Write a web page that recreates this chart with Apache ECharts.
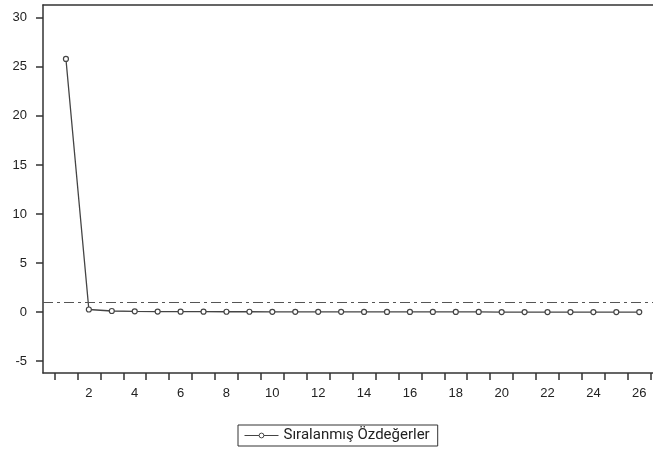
<!DOCTYPE html>
<html><head><meta charset="utf-8">
<script src="https://cdn.jsdelivr.net/npm/echarts@6/dist/echarts.min.js"></script>
<style>html,body{margin:0;padding:0;background:#fff}#c{width:653px;height:454px}</style>
</head><body><div id="c"></div>
<script>
const seriesName = 'Sıralanmış Özdeğerler';
const components = [1,2,3,4,5,6,7,8,9,10,11,12,13,14,15,16,17,18,19,20,21,22,23,24,25,26];
const eigenvalues = [25.8,0.27,0.12,0.08,0.06,0.05,0.05,0.04,0.04,0.03,0.03,0.03,0.03,0.02,0.02,0.02,0.02,0.02,0.02,0.01,0.01,0.01,0.01,0.01,0.01,0.01];
const referenceValue = 1;
const xTickValues = [0.5,1.5,2.5,3.5,4.5,5.5,6.5,7.5,8.5,9.5,10.5,11.5,12.5,13.5,14.5,15.5,16.5,17.5,18.5,19.5,20.5,21.5,22.5,23.5,24.5,25.5,26.5];
const xLabelValues = [2,4,6,8,10,12,14,16,18,20,22,24,26];
const yTickValues = [-5,0,5,10,15,20,25,30];

const chart = echarts.init(document.getElementById('c'), null, {renderer:'canvas'});
const axisColor = '#333';
const labelFont = {color:'#222', fontFamily:'Liberation Sans, Arial, sans-serif', fontSize:13};
chart.setOption({
  animation:false,
  grid:{left:43, right:0, top:5, bottom:81},
  xAxis:[{
    type:'value', min:0, max:26.6, position:'bottom',
    axisLine:{show:true, onZero:false, lineStyle:{color:axisColor, width:1.5}},
    axisTick:{show:true, customValues:xTickValues, length:7, inside:false, lineStyle:{color:axisColor, width:1.5}},
    axisLabel:Object.assign({customValues:xLabelValues, margin:14}, labelFont),
    splitLine:{show:false}
  },{
    type:'value', min:0, max:26.6, position:'top',
    axisLine:{show:true, onZero:false, lineStyle:{color:axisColor, width:1.5}},
    axisTick:{show:false}, axisLabel:{show:false}, splitLine:{show:false}
  }],
  yAxis:{
    type:'value', min:-6.2, max:31.3,
    axisLine:{show:true, onZero:false, lineStyle:{color:axisColor, width:1.5}},
    axisTick:{show:true, customValues:yTickValues, length:7, lineStyle:{color:axisColor, width:1.5}},
    axisLabel:Object.assign({customValues:yTickValues, margin:16}, labelFont),
    splitLine:{show:false}
  },
  legend:{
    left:238, top:425, data:[seriesName],
    borderColor:'#333', borderWidth:1, padding:[3,8,3,6],
    itemWidth:34, itemHeight:6, itemGap:6,
    lineStyle:{width:1, color:'#444'},
    itemStyle:{color:'#fff', borderColor:'#444', borderWidth:1},
    textStyle:{color:'#222', fontFamily:'Roboto, Arial, sans-serif', fontSize:15}
  },
  series:[{
    name:seriesName, type:'line',
    data:components.map((c,i)=>[c, eigenvalues[i]]),
    symbol:'circle', symbolSize:5, showSymbol:true,
    lineStyle:{color:'#444', width:1.3},
    itemStyle:{color:'#fff', borderColor:'#444', borderWidth:1.2},
    markLine:{
      silent:true, symbol:'none', label:{show:false},
      lineStyle:{color:'#555', type:[10,4,3,4], width:1},
      data:[{yAxis:referenceValue}]
    }
  }]
});
</script></body></html>
